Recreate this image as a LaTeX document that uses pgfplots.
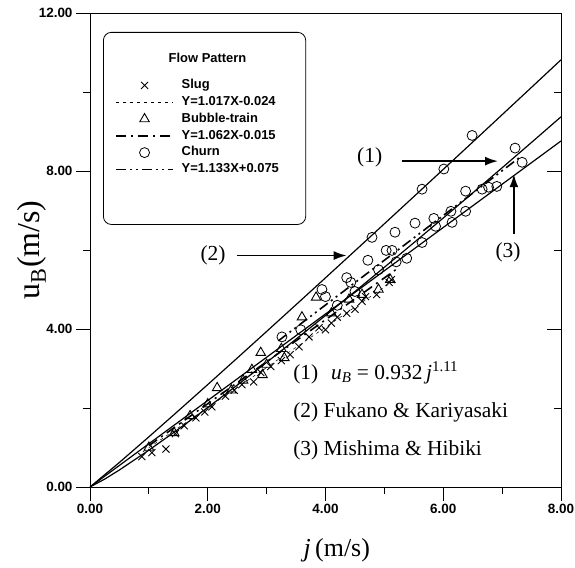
\documentclass[border=0pt]{standalone}
\usepackage{fontspec}
\setmainfont{Liberation Serif}
\setsansfont{Liberation Sans}
\usepackage{pgfplots}
\pgfplotsset{compat=1.18}
\usetikzlibrary{arrows.meta}
\pgfplotsset{
  linelegend/.style={legend image code/.code={\draw[##1] (-0.7cm,0cm) -- (1.3cm,0cm);}},
}
\begin{document}
\begin{tikzpicture}
\begin{axis}[
  at={(0,0)}, anchor=south west,
  scale only axis, width=471bp, height=474bp,
  xmin=0, xmax=8, ymin=0, ymax=12,
  xtick={0,2,4,6,8}, ytick={0,4,8,12},
  minor xtick={1,3,5,7}, minor ytick={2,6,10},
  xtick pos=bottom, ytick pos=left,
  tick align=outside,
  major tick length=14bp, minor tick length=7bp,
  tick style={black, line width=0.9bp},
  axis line style={line width=0.9bp},
  /pgf/number format/assume math mode=true,
  ticklabel style={font=\fontsize{13.5}{14}\sffamily\bfseries},
  xticklabel style={/pgf/number format/.cd,fixed,fixed zerofill,precision=2},
  yticklabel style={/pgf/number format/.cd,fixed,fixed zerofill,precision=2},
  xlabel={\textit{j}\,(m/s)},
  xlabel style={font=\fontsize{26}{28}\selectfont, at={(axis description cs:0.524,0)}, anchor=center, yshift=-63bp},
  clip mode=individual,
  legend cell align=left,
  legend style={at={(axis description cs:0.0276,0.96)}, anchor=north west,
    draw=black, line width=0.8bp, rounded corners=8bp,
    inner xsep=12bp, inner ysep=20bp,
    font=\fontsize{13}{14}\sffamily\bfseries,
    nodes={inner xsep=8bp, inner ysep=1bp, text height=9.5bp, text depth=3bp},
    row sep=2.3bp},
]
\addlegendimage{empty legend}
\addlegendentry[text depth=12bp]{\hspace*{-13bp}Flow Pattern}

\addplot[only marks, mark=x, mark size=5bp, mark options={line width=0.9bp}] coordinates {
(0.88,0.77)(1.05,0.87)(1.29,0.96)(1.45,1.35)(1.6,1.55)(1.8,1.75)(1.95,1.9)(2.07,2.03)
(2.3,2.3)(2.45,2.45)(2.58,2.59)(2.78,2.66)(2.9,2.9)(3.07,3.05)(3.25,3.2)(3.4,3.35)
(3.55,3.55)(3.72,3.8)(3.89,4.03)(4.0,3.98)(4.1,4.15)(4.2,4.3)(4.36,4.4)(4.5,4.5)
(4.62,4.7)(4.68,4.82)(4.87,4.87)(5.08,5.18)(5.12,5.25)};
\addlegendentry{\makebox[104bp][l]{Slug}}

\addplot[linelegend, line width=0.5bp, dash pattern=on 3bp off 4bp] coordinates {(0.9,0.891)(5.1,5.163)};
\addlegendentry{Y=1.017X-0.024}

\addplot[only marks, mark=triangle, mark size=5.5bp, mark options={line width=0.9bp}] coordinates {
(1.0,1.0)(1.43,1.37)(1.7,1.8)(2.0,2.1)(2.16,2.51)(2.4,2.45)(2.6,2.7)(2.75,2.97)(2.9,3.4)
(2.93,2.84)(3.0,3.1)(3.3,3.27)(3.25,3.5)(3.6,4.3)(3.84,4.8)(4.1,4.4)(4.4,4.75)(4.62,4.87)
(4.9,5.0)(5.1,5.25)};
\addlegendentry{Bubble-train}

\addplot[linelegend, line width=1.6bp, dash pattern=on 10bp off 5bp on 2bp off 5bp] coordinates {(1.0,1.047)(5.2,5.507)};
\addlegendentry{Y=1.062X-0.015}

\addplot[only marks, mark=o, mark size=5bp, mark options={line width=0.8bp}] coordinates {
(3.26,3.8)(3.58,3.98)(3.94,5.0)(4.0,4.82)(4.36,5.3)(4.43,5.18)(4.72,5.74)(4.79,6.32)
(5.03,5.99)(5.13,5.99)(5.18,6.45)(5.38,5.79)(5.52,6.68)(5.64,6.19)(5.64,7.54)(5.84,6.8)
(5.87,6.6)(6.01,8.05)(6.13,6.98)(6.15,6.7)(6.38,6.98)(6.38,7.49)(6.49,8.9)(6.66,7.54)
(6.77,7.59)(6.91,7.61)(7.22,8.58)(7.34,8.22)(4.9,5.5)(5.2,5.7)(4.2,4.6)(4.5,4.95)};
\addlegendentry{Churn}

\addplot[linelegend, line width=1.6bp, dash pattern=on 10bp off 4bp on 2bp off 4bp on 2bp off 4bp] coordinates {(3.2,3.701)(7.3,8.346)};
\addlegendentry{Y=1.133X+0.075}
\addlegendimage{empty legend}
\addlegendentry[text depth=14bp]{}

% (2) Fukano & Kariyasaki
\addplot[forget plot, black, line width=1.2bp] coordinates {
(0,0)(0.5,0.6219)(1,1.27)(1.5,1.9283)(2,2.5934)(2.5,3.2635)(3,3.9377)(3.5,4.6152)(4,5.2956)
(4.5,5.9786)(5,6.664)(5.5,7.351)(6,8.041)(6.5,8.732)(7,9.425)(7.5,10.119)(8,10.815)};
% (1) u_B = 0.932 j^1.11
\addplot[forget plot, black, line width=1.2bp] coordinates {
(0,0)(0.25,0.2)(0.5,0.4318)(1,0.932)(1.5,1.4618)(2,2.0116)(2.5,2.5771)(3,3.1553)(3.5,3.7441)
(4,4.342)(4.5,4.9485)(5,5.5626)(5.5,6.1837)(6,6.8099)(6.5,7.4429)(7,8.0813)(7.5,8.7243)(8,9.3722)};
% (3) Mishima & Hibiki
\addplot[forget plot, black, line width=1.2bp] coordinates {(0,0)(4,4.38)(8,8.76)};

% right-axis inward ticks
\draw[line width=0.9bp] (axis cs:8,4) -- ++(-14bp,0);
\draw[line width=0.9bp] (axis cs:8,8) -- ++(-14bp,0);
\draw[line width=0.9bp] (axis cs:8,2) -- ++(-7bp,0);
\draw[line width=0.9bp] (axis cs:8,6) -- ++(-7bp,0);
\draw[line width=0.9bp] (axis cs:8,10) -- ++(-7bp,0);

% annotations
\draw[-{Latex[length=13bp,width=9bp]}, line width=1.8bp] (axis cs:5.30,8.25) -- (axis cs:6.93,8.25);
\draw[-{Latex[length=13bp,width=9bp]}, line width=1.8bp] (axis cs:2.50,5.86) -- (axis cs:4.36,5.86);
\draw[-{Latex[length=13bp,width=9bp]}, line width=1.8bp] (axis cs:7.20,6.40) -- (axis cs:7.20,7.92);
\node[font=\fontsize{21.5}{23}\selectfont] at (axis cs:4.75,8.35) {(1)};
\node[font=\fontsize{21.5}{23}\selectfont] at (axis cs:2.09,5.86) {(2)};
\node[font=\fontsize{21.5}{23}\selectfont] at (axis cs:7.10,5.94) {(3)};
\node[font=\fontsize{21.5}{23}\selectfont, anchor=west, inner sep=0pt] at (axis cs:3.45,2.89) {(1)\hspace{0.6em}\textit{u\textsubscript{B}} = 0.932\,\textit{j}\textsuperscript{1.11}};
\node[font=\fontsize{21.5}{23}\selectfont, anchor=west, inner sep=0pt] at (axis cs:3.45,1.88) {(2) Fukano \& Kariyasaki};
\node[font=\fontsize{21.5}{23}\selectfont, anchor=west, inner sep=0pt] at (axis cs:3.45,0.94) {(3) Mishima \& Hibiki};
\node[font=\fontsize{32}{34}\selectfont, rotate=90, anchor=center] at (axis description cs:-0.123,0.5) {u\textsubscript{B}(m/s)};
\end{axis}
\pgfresetboundingbox
\path[use as bounding box] (-90bp,-81bp) rectangle (485bp,487bp);
\end{tikzpicture}
\end{document}
